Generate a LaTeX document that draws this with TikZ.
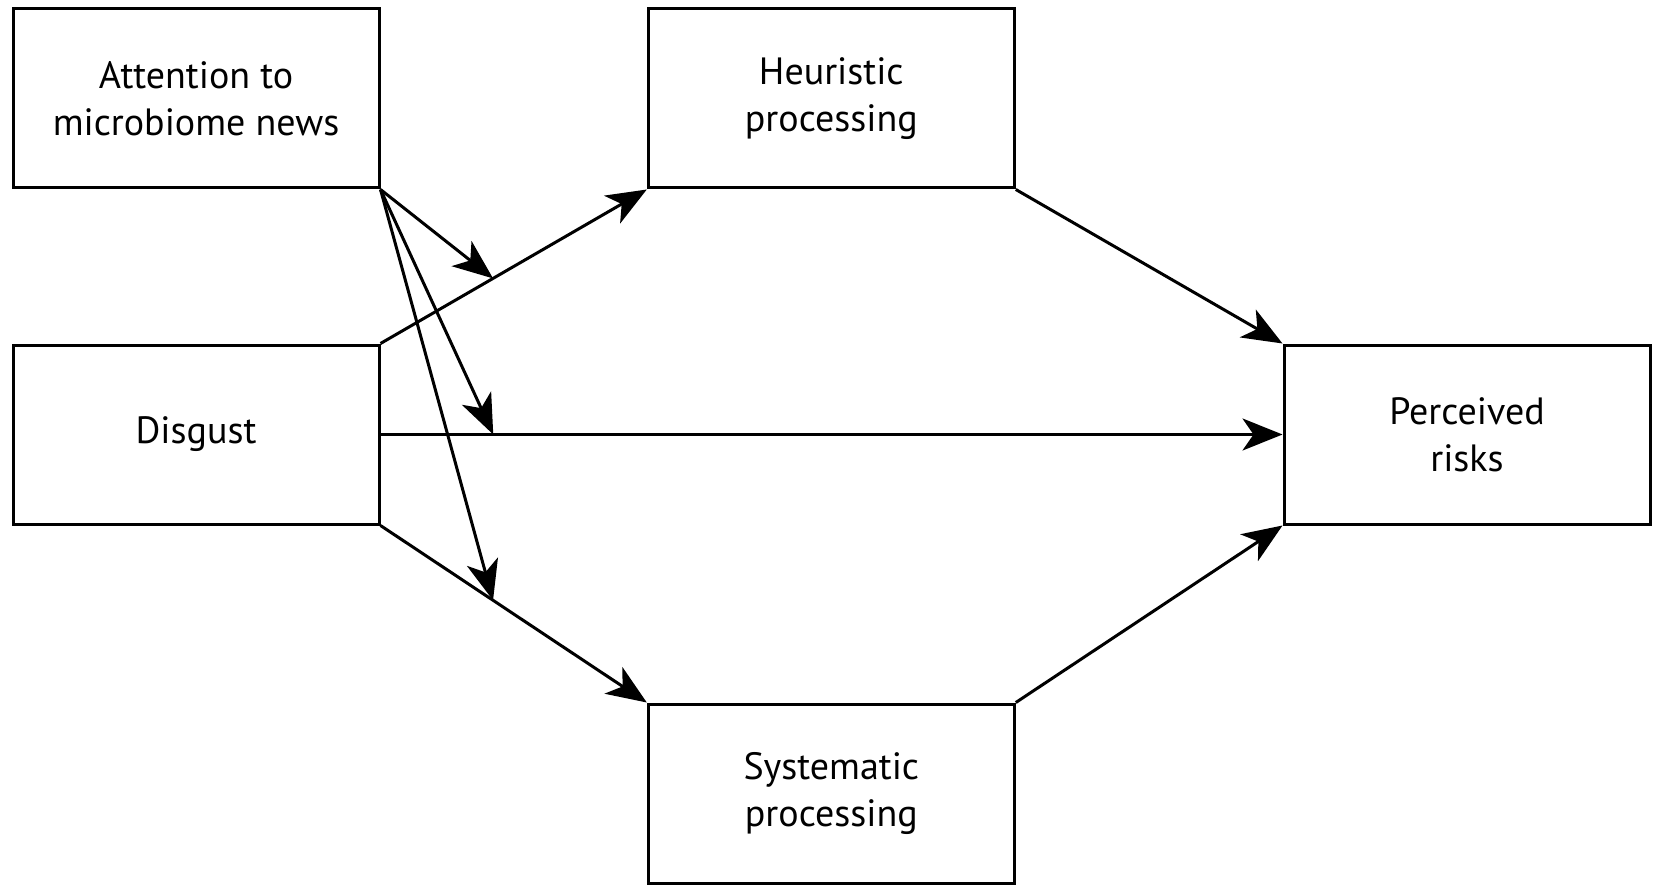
\documentclass[tikz,border=0pt]{standalone}
\usepackage{fontspec}
\setmainfont{PT Sans}
\usetikzlibrary{arrows.meta}
\begin{document}
\begin{tikzpicture}[x=1pt,y=-1pt,
  box/.style={draw, line width=3pt, rectangle, minimum width=366pt, minimum height=179pt,
    align=center, inner sep=0pt, font=\fontsize{38}{47}\selectfont},
  conn/.style={line width=3pt, -{Stealth[length=40pt,width=32pt,inset=11pt]}}]
\useasboundingbox (0,0) rectangle (1659,885);
\node[box] (att) at (196,98.5) {Attention to\\microbiome news};
\node[box] (heu) at (831.3,98.5) {Heuristic\\processing};
\node[box] (dis) at (196,434.5) {Disgust};
\node[box] (per) at (1467,434.5) {Perceived\\risks};
\node[box] (sys) at (831.3,793.5) {Systematic\\processing};
\draw[conn] (dis.north east) -- (heu.south west) coordinate[pos=0.4226] (m1);
\draw[conn] (dis.east) -- (per.west) coordinate[pos=0.125] (m2);
\draw[conn] (dis.south east) -- (sys.north west) coordinate[pos=0.4226] (m3);
\draw[conn] (heu.south east) -- (per.north west);
\draw[conn] (sys.north east) -- (per.south west);
\draw[conn] (att.south east) -- (m1);
\draw[conn] (att.south east) -- (m2);
\draw[conn] (att.south east) -- (m3);
\end{tikzpicture}
\end{document}
